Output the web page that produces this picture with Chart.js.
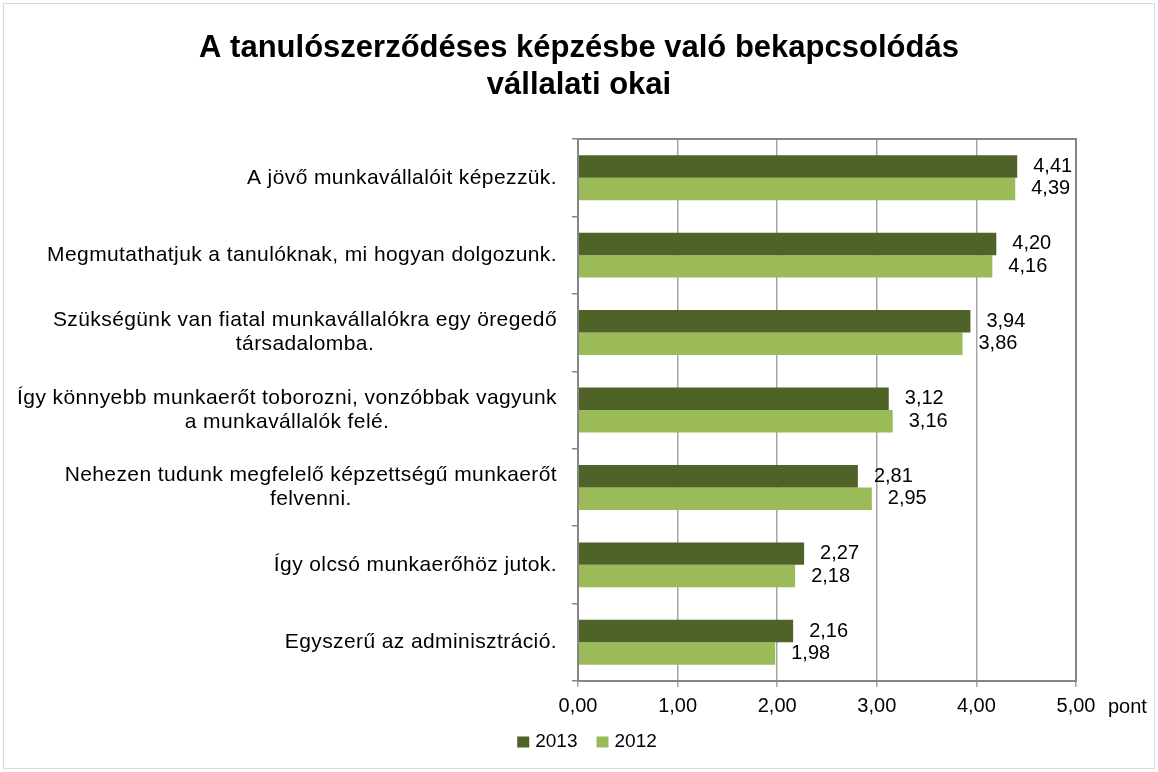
<!DOCTYPE html>
<html>
<head>
<meta charset="utf-8">
<script src="https://cdn.jsdelivr.net/npm/chart.js@4/dist/chart.umd.min.js"></script>
<style>
  body { margin: 0; background: #fff; }
  #wrap { width: 1158px; height: 772px; }
</style>
</head>
<body>
<div id="wrap"><canvas id="reasonsChart" width="1158" height="772"></canvas></div>
<script>
const titleLines = ['A tanulószerződéses képzésbe való bekapcsolódás', 'vállalati okai'];
const categories = [
  ['A jövő munkavállalóit képezzük.'],
  ['Megmutathatjuk a tanulóknak, mi hogyan dolgozunk.'],
  ['Szükségünk van fiatal munkavállalókra egy öregedő', 'társadalomba.'],
  ['Így könnyebb munkaerőt toborozni, vonzóbbak vagyunk', 'a munkavállalók felé.'],
  ['Nehezen tudunk megfelelő képzettségű munkaerőt', 'felvenni.'],
  ['Így olcsó munkaerőhöz jutok.'],
  ['Egyszerű az adminisztráció.']
];
const values2013 = [4.41, 4.20, 3.94, 3.12, 2.81, 2.27, 2.16];
const values2012 = [4.39, 4.16, 3.86, 3.16, 2.95, 2.18, 1.98];
const seriesNames = ['2013', '2012'];
const seriesColors = ['#4f6228', '#9bbb59'];
const axisUnit = 'pont';

const FONT = '"Liberation Sans", Arial, sans-serif';

function fmt(v) {
  return v.toFixed(2).replace('.', ',');
}

// frame, title, plot border, category labels, value labels, legend
const decorations = {
  id: 'decorations',
  beforeDraw(chart) {
    const ctx = chart.ctx;
    ctx.save();
    ctx.fillStyle = '#ffffff';
    ctx.fillRect(0, 0, chart.width, chart.height);
    ctx.strokeStyle = '#d9d9d9';
    ctx.lineWidth = 1;
    ctx.strokeRect(3.5, 3.5, chart.width - 7, chart.height - 7);

    // title, centred on the whole picture
    ctx.fillStyle = '#000';
    ctx.font = 'bold 31px ' + FONT;
    ctx.textAlign = 'center';
    ctx.textBaseline = 'middle';
    titleLines.forEach((t, i) => ctx.fillText(t, chart.width / 2, 48 + i * 37));
    ctx.restore();
  },
  afterDraw(chart) {
    const ctx = chart.ctx;
    const area = chart.chartArea;
    ctx.save();
    // plot area border
    ctx.strokeStyle = '#868686';
    ctx.lineWidth = 2;
    ctx.strokeRect(area.left, area.top, area.right - area.left, area.bottom - area.top);

    // category labels: lines centred to each other, block right aligned
    const yScale = chart.scales.y;
    ctx.font = '21px ' + FONT;
    ctx.letterSpacing = '0.4px';
    ctx.fillStyle = '#000';
    ctx.textBaseline = 'middle';
    ctx.textAlign = 'center';
    const lineH = 24;
    categories.forEach((lines, i) => {
      const yc = yScale.getPixelForTick(i);
      let maxW = 0;
      lines.forEach(l => { maxW = Math.max(maxW, ctx.measureText(l).width); });
      const cx = area.left - 21 - maxW / 2;
      lines.forEach((l, j) => {
        ctx.fillText(l, cx, yc + (j - (lines.length - 1) / 2) * lineH);
      });
    });
    ctx.letterSpacing = '0px';

    // value labels next to bar ends
    ctx.font = '20px ' + FONT;
    ctx.textAlign = 'left';
    chart.data.datasets.forEach((ds, di) => {
      chart.getDatasetMeta(di).data.forEach((bar, i) => {
        ctx.fillText(fmt(ds.data[i]), bar.x + 16, bar.y);
      });
    });

    // unit after the last x tick
    ctx.fillText(axisUnit, area.right + 32, area.bottom + 26);

    // legend
    ctx.font = '19px ' + FONT;
    const box = 12, gapText = 6, gapItem = 19;
    const widths = seriesNames.map(n => box + gapText + ctx.measureText(n).width);
    const total = widths.reduce((a, b) => a + b, 0) + gapItem * (widths.length - 1);
    let x = chart.width / 2 + 8 - total / 2;
    const ly = 742;
    seriesNames.forEach((n, i) => {
      ctx.fillStyle = seriesColors[i];
      ctx.fillRect(x, ly - 5.5, box, 11);
      ctx.fillStyle = '#000';
      ctx.fillText(n, x + box + gapText, ly);
      x += widths[i] + gapItem;
    });
    ctx.restore();
  }
};

const ctx = document.getElementById('reasonsChart').getContext('2d');
new Chart(ctx, {
  type: 'bar',
  data: {
    labels: categories,
    datasets: [
      { label: seriesNames[0], data: values2013, backgroundColor: seriesColors[0] },
      { label: seriesNames[1], data: values2012, backgroundColor: seriesColors[1] }
    ]
  },
  options: {
    indexAxis: 'y',
    responsive: false,
    animation: false,
    categoryPercentage: 0.58,
    barPercentage: 1,
    layout: { padding: { left: 0, right: 82, top: 139, bottom: 46 } },
    plugins: {
      title: { display: false },
      legend: { display: false },
      tooltip: { enabled: false }
    },
    scales: {
      x: {
        min: 0,
        max: 5,
        ticks: {
          stepSize: 1,
          color: '#000',
          padding: 7,
          font: { family: FONT, size: 20 },
          callback: (v) => fmt(v)
        },
        grid: { color: '#a6a6a6', lineWidth: 1.5, tickLength: 6, tickColor: '#a6a6a6' },
        border: { color: '#868686', width: 2 },
        afterFit(scale) { scale.height = 45; }
      },
      y: {
        ticks: { display: false },
        grid: { drawOnChartArea: false, tickLength: 6, color: '#868686', lineWidth: 1.5 },
        border: { color: '#868686', width: 2 },
        afterFit(scale) { scale.width = 578; }
      }
    }
  },
  plugins: [decorations]
});
</script>
</body>
</html>
